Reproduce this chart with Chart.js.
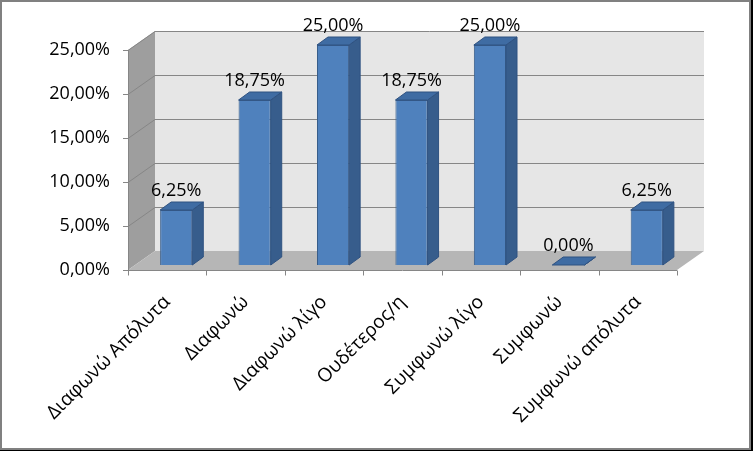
<!DOCTYPE html>
<html>
<head>
<meta charset="utf-8">
<script src="https://cdn.jsdelivr.net/npm/chart.js@4.4.0/dist/chart.umd.min.js"></script>
<style>
  html, body { margin: 0; padding: 0; background: #000; }
  #frame { position: absolute; left: 0; top: 0; width: 751px; height: 450px; box-sizing: border-box; border: 2px solid #808080; background: #fff; }
  #wrap { position: absolute; left: 0; top: 0; width: 753px; height: 451px; }
</style>
</head>
<body>
<div id="frame"></div>
<div id="wrap"><canvas id="chart"></canvas></div>
<script>
const categories = ['Διαφωνώ Απόλυτα', 'Διαφωνώ', 'Διαφωνώ λίγο', 'Ουδέτερος/η', 'Συμφωνώ λίγο', 'Συμφωνώ', 'Συμφωνώ απόλυτα'];
const values = [6.25, 18.75, 25.00, 18.75, 25.00, 0.00, 6.25];
const yMax = 25;
const yStep = 5;

const fmt = v => v.toFixed(2).replace('.', ',') + '%';
const FONT = '"Open Sans", "Liberation Sans", sans-serif';

// 3d look: front edge and back wall offsets from the plane of the bars
const front = { dx: -9, dy: 5 };
const back = { dx: 18, dy: -14 };
const barDepth = { dx: 11, dy: -8 };

const walls = {
  id: 'walls',
  beforeDatasetsDraw(chart) {
    const { ctx, chartArea: a, scales: { x, y } } = chart;
    const y0 = y.getPixelForValue(0), yT = y.getPixelForValue(yMax);
    const poly = (pts, fill) => {
      ctx.beginPath();
      pts.forEach((p, i) => i ? ctx.lineTo(p[0], p[1]) : ctx.moveTo(p[0], p[1]));
      ctx.closePath();
      ctx.fillStyle = fill;
      ctx.fill();
    };
    ctx.save();
    // back wall
    poly([[a.left + back.dx, yT + back.dy], [a.right + back.dx, yT + back.dy],
          [a.right + back.dx, y0 + back.dy], [a.left + back.dx, y0 + back.dy]], '#e6e6e6');
    // side wall
    poly([[a.left + front.dx, y0 + front.dy], [a.left + front.dx, yT + front.dy],
          [a.left + back.dx, yT + back.dy], [a.left + back.dx, y0 + back.dy]], '#9e9e9e');
    // floor
    poly([[a.left + front.dx, y0 + front.dy], [a.right + front.dx, y0 + front.dy],
          [a.right + back.dx, y0 + back.dy], [a.left + back.dx, y0 + back.dy]], '#b6b6b6');

    ctx.strokeStyle = '#868686';
    ctx.lineWidth = 1;
    ctx.beginPath();
    for (let v = 0; v <= yMax; v += yStep) {
      const p = Math.round(y.getPixelForValue(v)) + 0.5;
      if (v > 0) {
        ctx.moveTo(a.left + front.dx, p + front.dy);
        ctx.lineTo(a.left + back.dx, p + back.dy);
        ctx.lineTo(a.right + back.dx, p + back.dy);
      }
      // tick on the value axis
      ctx.moveTo(a.left + front.dx - 5, p + front.dy);
      ctx.lineTo(a.left + front.dx, p + front.dy);
    }
    // value axis
    ctx.moveTo(a.left + front.dx + 0.5, y0 + front.dy);
    ctx.lineTo(a.left + front.dx + 0.5, yT + front.dy);
    // category axis + ticks
    const fy = Math.round(y0 + front.dy) + 0.5;
    ctx.moveTo(a.left + front.dx, fy);
    ctx.lineTo(a.right + front.dx, fy);
    for (let i = 0; i <= categories.length; i++) {
      const px = Math.round(x.getPixelForValue(i - 0.5) + front.dx) + 0.5;
      ctx.moveTo(px, fy);
      ctx.lineTo(px, fy + 5);
    }
    ctx.stroke();
    ctx.restore();
  },
  afterDatasetsDraw(chart) {
    const { ctx } = chart;
    const meta = chart.getDatasetMeta(0);
    ctx.save();
    meta.data.forEach((bar, i) => {
      const { x, y, base, width } = bar.getProps(['x', 'y', 'base', 'width'], true);
      const l = x - width / 2, r = x + width / 2;
      ctx.strokeStyle = '#2f5281';
      ctx.lineWidth = 1;
      // side face
      ctx.beginPath();
      ctx.moveTo(r, y);
      ctx.lineTo(r + barDepth.dx, y + barDepth.dy);
      ctx.lineTo(r + barDepth.dx, base + barDepth.dy);
      ctx.lineTo(r, base);
      ctx.closePath();
      ctx.fillStyle = '#375d8c';
      ctx.fill();
      ctx.stroke();
      // top face
      ctx.beginPath();
      ctx.moveTo(l, y);
      ctx.lineTo(l + barDepth.dx, y + barDepth.dy);
      ctx.lineTo(r + barDepth.dx, y + barDepth.dy);
      ctx.lineTo(r, y);
      ctx.closePath();
      ctx.fillStyle = '#3f6ca3';
      ctx.fill();
      ctx.stroke();
      // data label
      ctx.fillStyle = '#000';
      ctx.font = '18px ' + FONT;
      ctx.textAlign = 'center';
      ctx.textBaseline = 'alphabetic';
      ctx.fillText(fmt(values[i]), x, y - 14);
    });
    ctx.restore();
  }
};

new Chart(document.getElementById('chart'), {
  type: 'bar',
  data: {
    labels: categories,
    datasets: [{
      data: values,
      backgroundColor: '#4f81bd',
      borderColor: '#385d8a',
      borderWidth: 1,
      categoryPercentage: 1,
      barPercentage: 0.41
    }]
  },
  options: {
    responsive: true,
    maintainAspectRatio: false,
    animation: false,
    layout: { padding: { top: 45, right: 67, left: 0, bottom: 0 } },
    plugins: { legend: { display: false }, tooltip: { enabled: false } },
    scales: {
      x: {
        grid: { display: false, drawTicks: false },
        border: { display: false },
        ticks: {
          color: '#000',
          font: { family: FONT, size: 19 },
          minRotation: 45,
          maxRotation: 45,
          padding: 26,
          labelOffset: -9
        },
        afterFit: s => { s.height = 186; }
      },
      y: {
        min: 0,
        max: yMax,
        grid: { display: false, drawTicks: false },
        border: { display: false },
        ticks: {
          stepSize: yStep,
          color: '#000',
          font: { family: FONT, size: 18 },
          padding: 27,
          labelOffset: 5,
          callback: v => fmt(v)
        },
        afterFit: s => { s.width = 137; }
      }
    }
  },
  plugins: [walls]
});
</script>
</body>
</html>
